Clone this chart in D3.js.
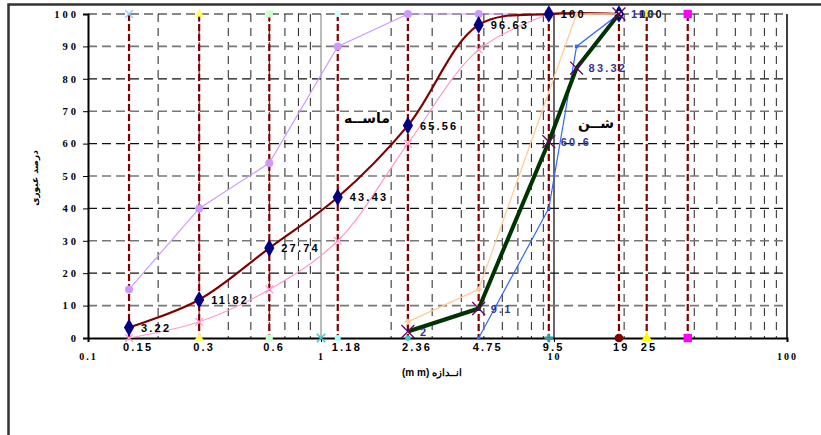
<!DOCTYPE html>
<html>
<head>
<meta charset="utf-8">
<script src="https://cdn.jsdelivr.net/npm/d3@7"></script>
<style>
  body { margin: 0; background: #fff; }
  svg { display: block; }
  .tick-serif { font-family: "Liberation Serif", serif; font-weight: bold; }
  .lbl { font-family: "Liberation Sans", Arial, sans-serif; font-weight: bold; font-size: 11px; letter-spacing: 2.2px; }
</style>
</head>
<body>
<svg width="821" height="435"></svg>
<script>
// sieve sizes (vertical dashed lines)
const sieves = [0.15, 0.3, 0.6, 1.18, 2.36, 4.75, 9.5, 19, 25, 37.5];
const sieveLabels = ["0.15", "0.3", "0.6", "1.18", "2.36", "4.75", "9.5", "19", "25", ""];

// sand (ماسه)
const sandSize = [0.15, 0.3, 0.6, 1.18, 2.36, 4.75, 9.5, 19];
const sandPass = [3.22, 11.82, 27.74, 43.43, 65.56, 96.63, 100, 100];
// sand limits
const sandUpSize = [0.15, 0.3, 0.6, 1.18, 2.36, 4.75, 9.5];
const sandUpPass = [15, 40, 54, 90, 100, 100, 100];
const sandLowSize = [0.15, 0.3, 0.6, 1.18, 2.36, 4.75, 9.5];
const sandLowPass = [0, 5, 15, 30, 60, 89, 100];

// gravel (شن)
const gravelSize = [2.36, 4.75, 9.5, 12.5, 19];
const gravelPass = [2, 9.1, 60.6, 83.32, 100];
// gravel limits
const gravelUpSize = [2.36, 4.75, 12.5, 19];
const gravelUpPass = [5, 15, 100, 100];
const gravelLowSize = [4.75, 9.5, 12.5, 19];
const gravelLowPass = [0, 40, 90, 100];

const yTicks = [0, 10, 20, 30, 40, 50, 60, 70, 80, 90, 100];
const xTicks = [0.1, 1, 10, 100];

const svg = d3.select("svg");

// outer frame
svg.append("rect")
    .attr("x", 8.5).attr("y", 4.5)
    .attr("width", 830).attr("height", 440)
    .attr("fill", "none").attr("stroke", "#333").attr("stroke-width", 2.5);

const x = d3.scaleLog().domain([0.1, 100]).range([88, 787]);
const y = d3.scaleLinear().domain([0, 100]).range([338, 14]);

// minor vertical gridlines
const minor = [];
[0.1, 1, 10].forEach(d => { for (let k = 2; k <= 9; k++) minor.push(d * k); });
svg.append("g").selectAll("line")
    .data(minor)
    .enter()
    .append("line")
    .attr("x1", d => x(d)).attr("x2", d => x(d))
    .attr("y1", y(100)).attr("y2", y(0))
    .attr("stroke", "#222").attr("stroke-width", 1)
    .attr("stroke-dasharray", "8,6");

// major verticals at 1 and 10
svg.append("line").attr("x1", x(1)).attr("x2", x(1)).attr("y1", y(100)).attr("y2", y(0))
    .attr("stroke", "#777").attr("stroke-width", 1);
svg.append("line").attr("x1", x(10)).attr("x2", x(10)).attr("y1", y(100)).attr("y2", y(0))
    .attr("stroke", "#000").attr("stroke-width", 1.2);

// horizontal gridlines
svg.append("g").selectAll("line")
    .data(yTicks.filter(d => d > 0))
    .enter()
    .append("line")
    .attr("x1", x(0.1)).attr("x2", x(100))
    .attr("y1", d => y(d)).attr("y2", d => y(d))
    .attr("stroke", d => (d / 10) % 2 ? "#777" : "#111")
    .attr("stroke-width", d => (d / 10) % 2 ? 1.6 : 1.2)
    .attr("stroke-dasharray", "9,5");

// right border
svg.append("line").attr("x1", x(100)).attr("x2", x(100)).attr("y1", y(100)).attr("y2", y(0))
    .attr("stroke", "#000").attr("stroke-width", 1.5);

// axes
const yAxis = svg.append("g")
    .attr("transform", `translate(${x(0.1)},0)`)
    .call(d3.axisLeft(y).tickValues(yTicks).tickSize(5).tickPadding(4).tickFormat(d3.format("d")));
yAxis.select(".domain").attr("stroke-width", 2);
yAxis.selectAll("text").attr("class", "tick-serif").attr("font-size", 10.5)
    .attr("letter-spacing", 3).attr("fill", "#000");

const xAxis = svg.append("g")
    .attr("transform", `translate(0,${y(0)})`)
    .call(d3.axisBottom(x).tickValues(xTicks).tickSize(4).tickPadding(11).tickFormat(d => d));
xAxis.select(".domain").attr("stroke-width", 2);
xAxis.selectAll("text").attr("class", "tick-serif").attr("font-size", 10)
    .attr("letter-spacing", 2).attr("fill", "#000");

// sieve lines
svg.append("g").selectAll("line")
    .data(sieves)
    .enter()
    .append("line")
    .attr("x1", d => x(d)).attr("x2", d => x(d))
    .attr("y1", y(100)).attr("y2", y(0))
    .attr("stroke", "#800000").attr("stroke-width", 2.2)
    .attr("stroke-dasharray", "7,3");

// sieve labels
svg.append("g").selectAll("text")
    .data(sieves)
    .enter()
    .append("text")
    .attr("class", "lbl")
    .attr("x", d => x(d) - 6)
    .attr("y", y(0) + 13)
    .attr("font-size", 11.5)
    .text((d, i) => sieveLabels[i]);

// end markers on sieve lines
const sym = (type, size) => d3.symbol().type(type).size(size)();
const ends = svg.append("g");
function endMark(sx, sy, type, size, fill, stroke) {
    ends.append("path")
        .attr("d", sym(type, size))
        .attr("transform", `translate(${x(sx)},${y(sy)})`)
        .attr("fill", fill).attr("stroke", stroke || "none").attr("stroke-width", 1.5);
}
endMark(sieves[0], 100, d3.symbolX, 40, "none", "#99ccff");
endMark(sieves[1], 100, d3.symbolTriangle, 40, "#ffff66");
endMark(sieves[1], 0, d3.symbolTriangle, 40, "#ffff66");
endMark(sieves[2], 100, d3.symbolSquare, 50, "#ccffcc");
endMark(sieves[2], 0, d3.symbolSquare, 50, "#ccffcc");
endMark(sieves[3], 100, d3.symbolCircle, 30, "#ccffff");
endMark(sieves[3], 0, d3.symbolCircle, 30, "#99ffff");
endMark(1, 0, d3.symbolX, 50, "none", "#33cccc");
endMark(sieves[4], 0, d3.symbolCircle, 25, "#33cccc");
endMark(sieves[6], 0, d3.symbolCross, 40, "#339999");
endMark(sieves[7], 0, d3.symbolCircle, 60, "#800000");
endMark(sieves[8], 0, d3.symbolTriangle, 50, "#ffff00");
endMark(sieves[8], 100, d3.symbolTriangle, 40, "#ffff00");
endMark(sieves[9], 0, d3.symbolSquare, 70, "#ff00ff");
endMark(sieves[9], 100, d3.symbolSquare, 70, "#ff00ff");

const zip = (a, b) => a.map((v, i) => [v, b[i]]);

function drawSeries(pts, color, width, curve, markType, markSize, markFill, markStroke) {
    const line = d3.line().x(d => x(d[0])).y(d => y(d[1])).curve(curve);
    const g = svg.append("g");
    g.append("path").datum(pts)
        .attr("d", line)
        .attr("fill", "none").attr("stroke", color).attr("stroke-width", width);
    if (markType) {
        g.selectAll("path.m")
            .data(pts)
            .enter()
            .append("path")
            .attr("class", "m")
            .attr("d", sym(markType, markSize))
            .attr("transform", d => `translate(${x(d[0])},${y(d[1])})`)
            .attr("fill", markFill).attr("stroke", markStroke || "none").attr("stroke-width", 1.3);
    }
    return g;
}

const sand = zip(sandSize, sandPass);
const gravel = zip(gravelSize, gravelPass);

drawSeries(zip(sandUpSize, sandUpPass), "#cc99ff", 1.2, d3.curveLinear, d3.symbolCircle, 50, "#cc99ff");
drawSeries(zip(sandLowSize, sandLowPass), "#ff99cc", 1.2, d3.curveCatmullRom, d3.symbolX, 40, "none", "#ff99cc");
drawSeries(sand, "#800000", 2.2, d3.curveCatmullRom, d3.symbolDiamond, 90, "#000080");
drawSeries(zip(gravelLowSize, gravelLowPass), "#3366ff", 1.2, d3.curveLinear, d3.symbolSquare, 12, "#3366ff");
drawSeries(zip(gravelUpSize, gravelUpPass), "#ffcc99", 1.3, d3.curveLinear, d3.symbolCross, 20, "#ffcc99");
drawSeries(gravel, "#003300", 4, d3.curveLinear, d3.symbolX, 110, "none", "#660066");

// data labels
svg.append("g").selectAll("text")
    .data(sand)
    .enter()
    .append("text")
    .attr("class", "lbl")
    .attr("x", d => x(d[0]) + (d[0] === 19 ? 20 : 12))
    .attr("y", d => y(d[1]) + 4)
    .attr("fill", "#000")
    .text(d => d[1]);

svg.append("g").selectAll("text")
    .data(gravel)
    .enter()
    .append("text")
    .attr("class", "lbl")
    .attr("x", d => x(d[0]) + 12)
    .attr("y", d => y(d[1]) + 4)
    .attr("fill", "#333399")
    .text(d => d[1]);

// region names
svg.append("text")
    .attr("x", 367).attr("y", 123)
    .attr("text-anchor", "middle")
    .attr("font-family", "DejaVu Sans, sans-serif").attr("font-weight", "bold").attr("font-size", 14)
    .text("ماســه");
svg.append("text")
    .attr("x", 596).attr("y", 128)
    .attr("text-anchor", "middle")
    .attr("font-family", "DejaVu Sans, sans-serif").attr("font-weight", "bold").attr("font-size", 14)
    .text("شــن");

// axis titles
svg.append("text")
    .attr("transform", `translate(38,178) rotate(-90)`)
    .attr("text-anchor", "middle")
    .attr("font-family", "DejaVu Sans, sans-serif").attr("font-weight", "bold").attr("font-size", 9)
    .text("درصد عبوری");
svg.append("text")
    .attr("x", 432).attr("y", 376)
    .attr("text-anchor", "middle")
    .attr("font-family", "Liberation Sans, Arial, sans-serif").attr("font-weight", "bold").attr("font-size", 10)
    .text("(m m) انــدازه");
</script>
</body>
</html>
